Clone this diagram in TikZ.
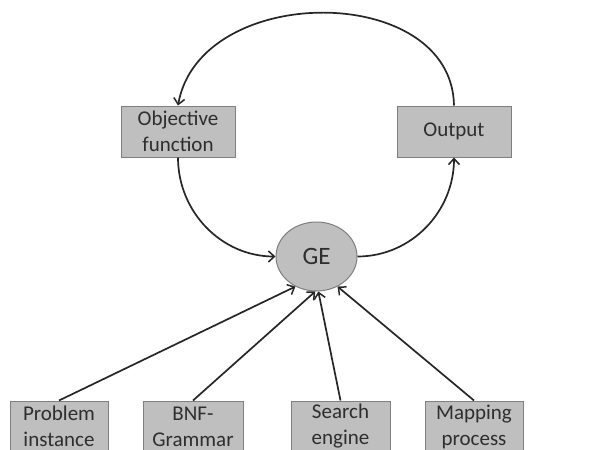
\documentclass[tikz,border=0pt]{standalone}
\usepackage{fontspec}
\setmainfont{Carlito}
\usetikzlibrary{arrows.meta,shapes.geometric}
\definecolor{boxfill}{HTML}{BFBFBF}
\definecolor{boxline}{HTML}{7F7F7F}
\begin{document}
\begin{tikzpicture}[x=1pt,y=-1pt,
  box/.style={draw=boxline,fill=boxfill,line width=1pt,minimum width=#1,align=center,inner sep=0pt,
    font=\fontsize{21}{26}\selectfont,text=black!82},
  box/.default={114pt},
  conn/.style={line width=1.7pt,black!85,-{Straight Barb[length=6pt,width=11pt,line width=1.5pt]}}]
\useasboundingbox (0,0) rectangle (603,450);
\begin{scope}
\clip (0,0) rectangle (603,450);
\node[box,minimum height=51pt] (obj) at (178,131.5) {Objective\\function};
\node[box,minimum height=51pt] (out) at (454,131.5) {Output};
\node[draw=boxline,fill=boxfill,line width=1pt,ellipse,minimum width=81pt,minimum height=69pt,inner sep=0pt,
  font=\fontsize{25}{30}\selectfont,text=black!82] (ge) at (316.5,256.5) {GE};
\node[box=98pt,minimum height=51pt] (pi) at (59,426.5) {Problem\\instance};
\node[box=100pt,minimum height=51pt] (bnf) at (193,426.5) {BNF-\\Grammar};
\node[box=99pt,minimum height=51pt] (se) at (340.5,426.5) {Search\\engine};
\node[box=98pt,minimum height=51pt] (mp) at (474,426.5) {Mapping\\process};
\end{scope}
\draw[conn] (out.north) .. controls (452,-18) and (200,-18) .. (obj.north);
\draw[conn] (obj.south) to[out=-90,in=180] (ge.west);
\draw[conn] (ge.east) to[out=0,in=-90] (out.south);
\draw[conn] (pi.north) -- (ge.-125);
\draw[conn] (bnf.north) -- (ge.-92);
\draw[conn] (se.north) -- (ge.-87);
\draw[conn] (mp.north) -- (ge.-55);
\end{tikzpicture}
\end{document}
